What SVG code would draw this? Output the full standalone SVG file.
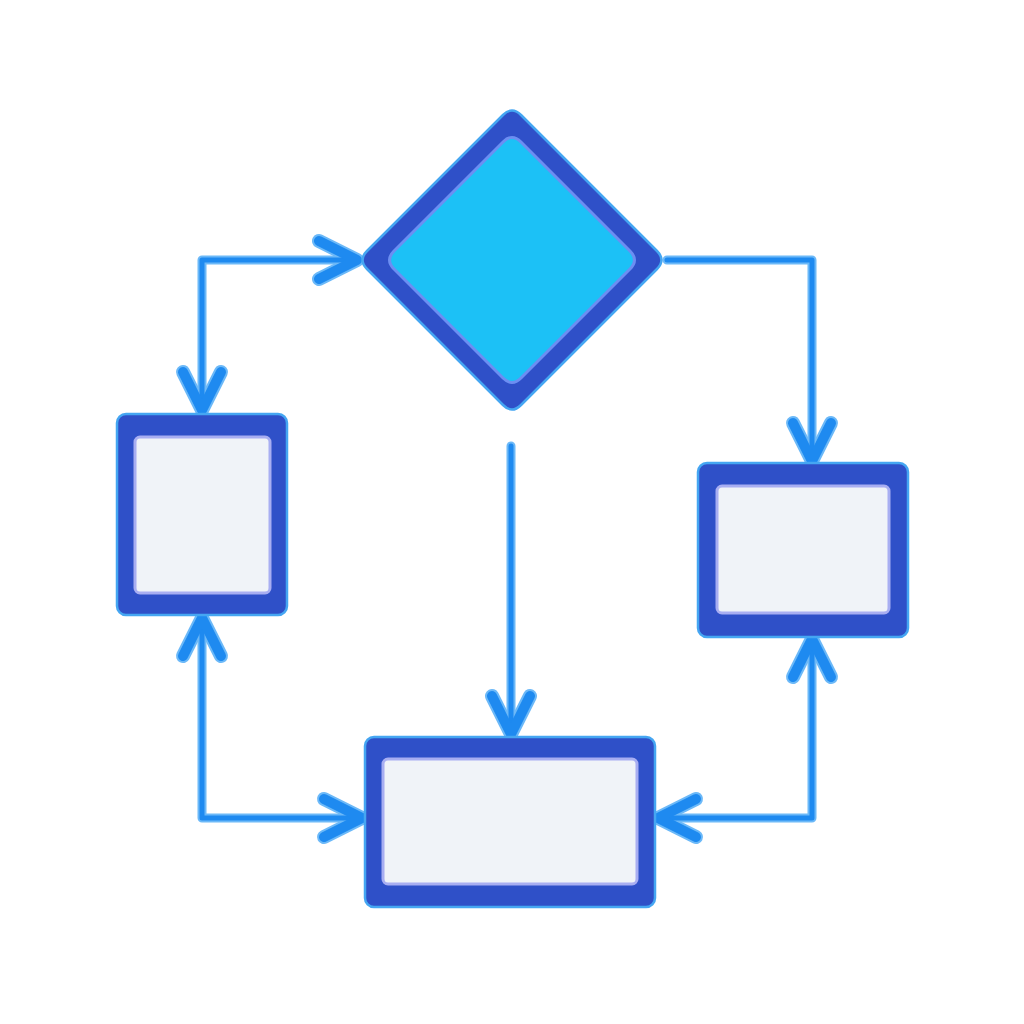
<svg xmlns="http://www.w3.org/2000/svg" width="1024" height="1024" viewBox="0 0 1024 1024">
<style>
.glow{fill:none;stroke:#6cb9f8;stroke-width:9;stroke-linejoin:round;stroke-linecap:round}
.line{fill:none;stroke:#1e8af0;stroke-width:5;stroke-linejoin:round;stroke-linecap:round}
.outer{fill:#2f50c8;stroke:#45a6f2;stroke-width:2.5}
.inner{fill:#f0f3f8;stroke:#a8aef2;stroke-width:3}
.dinner{fill:#1cc1f6;stroke:#6c8ef2;stroke-width:3}
</style>
<defs>
<marker id="hg" markerUnits="userSpaceOnUse" viewBox="-50 -30 60 60" refX="0" refY="0" markerWidth="60" markerHeight="60" orient="auto-start-reverse" overflow="visible">
<path d="M-38,-19 L0,0 L-38,19" fill="none" stroke="#6cb9f8" stroke-width="14" stroke-linecap="round" stroke-linejoin="round"/>
</marker>
<marker id="h" markerUnits="userSpaceOnUse" viewBox="-50 -30 60 60" refX="0" refY="0" markerWidth="60" markerHeight="60" orient="auto-start-reverse" overflow="visible">
<path d="M-38,-19 L0,0 L-38,19" fill="none" stroke="#1e8af0" stroke-width="10" stroke-linecap="round" stroke-linejoin="round"/>
</marker>
</defs>
<rect width="1024" height="1024" fill="#ffffff"/>
<g id="connectors">
<g id="c1"><path class="glow" d="M202,410 V260 H357" marker-start="url(#hg)" marker-end="url(#hg)"/><path class="line" d="M202,410 V260 H357" marker-start="url(#h)" marker-end="url(#h)"/></g>
<g id="c2"><path class="glow" d="M667,260 H812 V461" marker-end="url(#hg)"/><path class="line" d="M667,260 H812 V461" marker-end="url(#h)"/></g>
<g id="c3"><path class="glow" d="M511,446 V734" marker-end="url(#hg)"/><path class="line" d="M511,446 V734" marker-end="url(#h)"/></g>
<g id="c4"><path class="glow" d="M202,618 V818 H362" marker-start="url(#hg)" marker-end="url(#hg)"/><path class="line" d="M202,618 V818 H362" marker-start="url(#h)" marker-end="url(#h)"/></g>
<g id="c5"><path class="glow" d="M812,639 V818 H658" marker-start="url(#hg)" marker-end="url(#hg)"/><path class="line" d="M812,639 V818 H658" marker-start="url(#h)" marker-end="url(#h)"/></g>
</g>
<g id="decision">
<path class="outer" d="M503,115 Q512,106 521,115 L657,251 Q666,260 657,269 L521,405 Q512,414 503,405 L367,269 Q358,260 367,251 Z"/>
<path class="dinner" d="M503,142 Q512,133 521,142 L630,251 Q639,260 630,269 L521,378 Q512,387 503,378 L394,269 Q385,260 394,251 Z"/>
</g>
<g id="box-left">
<rect class="outer" x="117" y="414" width="170" height="201" rx="9"/>
<rect class="inner" x="135" y="437" width="135" height="156" rx="5"/>
</g>
<g id="box-right">
<rect class="outer" x="698" y="463" width="210" height="174" rx="9"/>
<rect class="inner" x="717" y="486" width="172" height="127" rx="5"/>
</g>
<g id="box-bottom">
<rect class="outer" x="365" y="737" width="290" height="170" rx="9"/>
<rect class="inner" x="383" y="759" width="254" height="125" rx="5"/>
</g>
</svg>
